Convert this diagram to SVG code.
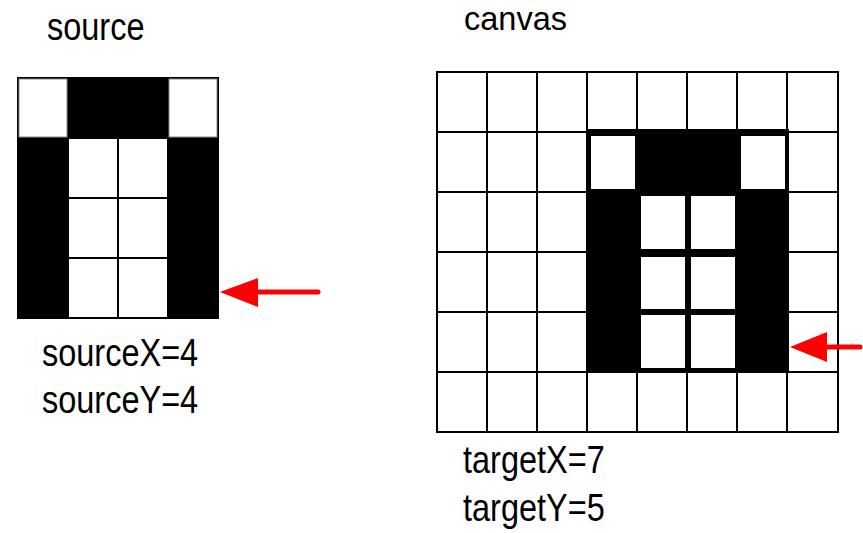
<svg xmlns="http://www.w3.org/2000/svg" width="863" height="533" viewBox="0 0 863 533">
<style>
.lbl{font-family:"Liberation Sans",Arial,sans-serif;font-size:32.5px;fill:#000}
.grid{stroke:#000;stroke-width:2;fill:none}
.w{fill:#fff}
.b{fill:#000}
.arrow{stroke:#ff0000;stroke-width:5;stroke-linecap:round;fill:none}
.head{fill:#ff0000}
</style>
<rect width="863" height="533" fill="#fff"/>
<g id="source-title"><text class="lbl" transform="translate(47,40) scale(1,1.2)">source</text></g>
<g id="canvas-title"><text class="lbl" transform="translate(464,30)">canvas</text></g>

<g id="source">
  <rect class="b" x="17" y="77" width="202" height="242"/>
  <rect x="19" y="79" width="48" height="58" fill="#fff" stroke="#888" stroke-width="1"/>
  <rect x="169" y="79" width="48" height="58" fill="#fff" stroke="#888" stroke-width="1"/>
  <rect class="w" x="69" y="139" width="48" height="58"/>
  <rect class="w" x="119" y="139" width="48" height="58"/>
  <rect class="w" x="69" y="199" width="48" height="58"/>
  <rect class="w" x="119" y="199" width="48" height="58"/>
  <rect class="w" x="69" y="259" width="48" height="58"/>
  <rect class="w" x="119" y="259" width="48" height="58"/>
</g>

<g id="canvas">
  <rect class="grid" x="437" y="72" width="401" height="360"/>
  <path class="grid" d="M487,72V432M537,72V432M587,72V432M637,72V432M687,72V432M737,72V432M787,72V432M437,132H838M437,192H838M437,252H838M437,312H838M437,372H838"/>
  <g id="pasted">
    <rect class="b" x="586" y="129" width="203" height="244"/>
    <rect class="w" x="591" y="136" width="44" height="53"/>
    <rect class="w" x="741" y="136" width="44" height="53"/>
    <rect class="w" x="641" y="196" width="44" height="53"/>
    <rect class="w" x="691" y="196" width="44" height="53"/>
    <rect class="w" x="641" y="257" width="44" height="52"/>
    <rect class="w" x="691" y="257" width="44" height="52"/>
    <rect class="w" x="641" y="315" width="44" height="53"/>
    <rect class="w" x="691" y="315" width="44" height="53"/>
  </g>
</g>

<g id="connectors">
  <line class="arrow" x1="255" y1="292" x2="318" y2="292"/>
  <polygon class="head" points="220,292 258,278 258,307"/>
  <line class="arrow" x1="824" y1="347" x2="860" y2="347"/>
  <polygon class="head" points="790,347 827,332 827,362"/>
</g>

<g id="source-coords">
  <text class="lbl" transform="translate(42,366) scale(1,1.2)">sourceX=4</text>
  <text class="lbl" transform="translate(42,413) scale(1,1.2)">sourceY=4</text>
</g>
<g id="target-coords">
  <text class="lbl" transform="translate(463,473) scale(1,1.2)">targetX=7</text>
  <text class="lbl" transform="translate(463,521) scale(1,1.2)">targetY=5</text>
</g>
</svg>
